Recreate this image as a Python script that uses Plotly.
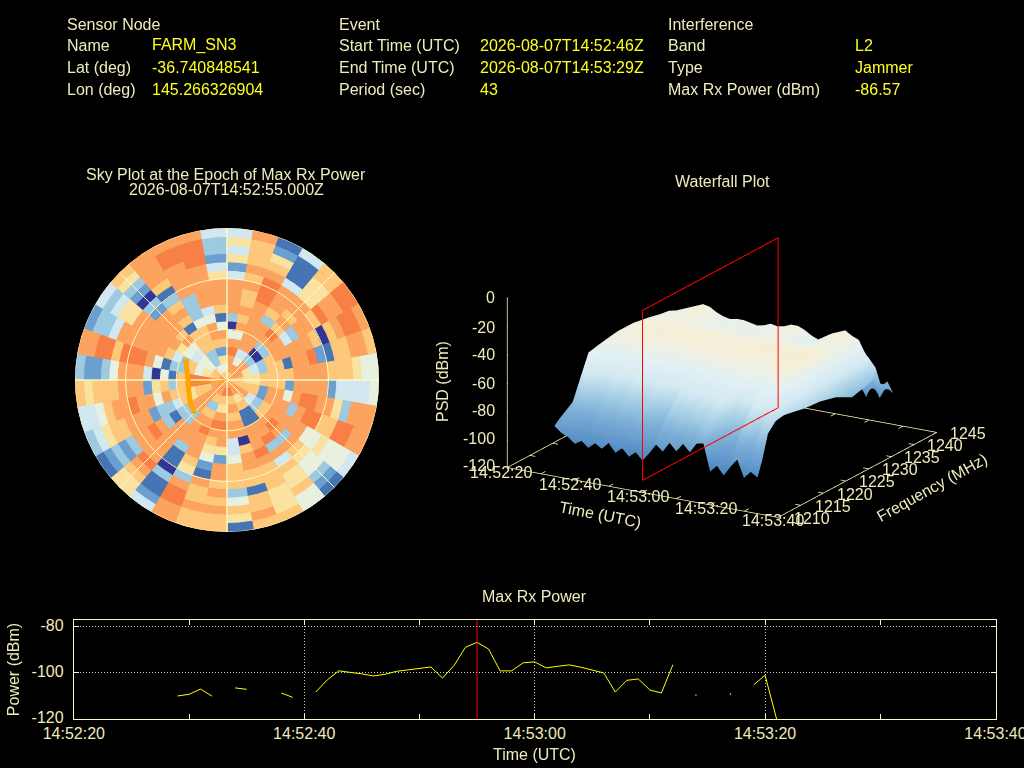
import numpy as np
import plotly.graph_objects as go

# header table
sensor_labels = ['Sensor Node', 'Name', 'Lat (deg)', 'Lon (deg)']
sensor_values = ['', 'FARM_SN3', '-36.740848541', '145.266326904']
event_labels = ['Event', 'Start Time (UTC)', 'End Time (UTC)', 'Period (sec)']
event_values = ['', '2026-08-07T14:52:46Z', '2026-08-07T14:53:29Z', '43']
interf_labels = ['Interference', 'Band', 'Type', 'Max Rx Power (dBm)']
interf_values = ['', 'L2', 'Jammer', '-86.57']

# sky plot: one string per azimuth sector (5, 15, ... 355 deg), elevation rings zenith -> horizon
sky_az = list(range(5, 360, 10))
sky_levels = [
    '788985038888426464', '887887878778787778', '875488888899987621', '873213883788841114',
    '888303897878866677', '874303884388798899', '876437888887078998', '776567718892177887',
    '776677778888777655', '777777728888244445', '887728858998863888', '888757883899779988',
    '888437888885565554', '878213898387655321', '886711889384766755', '887637888987776667',
    '897878807887717787', '787673844577735761', '727689886288787877', '878278876521877877',
    '887378988876389988', '888754888311031124', '888883388888898766', '888876313898832321',
    '887767433288877643', '899876785889887544', '899997376288877767', '899877150488853223',
    '876573315899979988', '543773478888884332', '535545688888866434', '384217878882302367',
    '753377717873178888', '873376753338888998', '866278854888889998', '876874517888642334',
]
level_colors = ['#313695', '#4575b4', '#6a9fcf', '#9ecae1', '#d1e8f0',
                '#e8f0e0', '#fae3a0', '#fdc87a', '#fca45f', '#f98045']

# satellite track on the sky plot
track_az = [297, 290, 280, 270, 264, 255, 245, 235, 224]
track_r = [27.7, 25.5, 24, 23, 22.9, 23.5, 24.4, 26, 27.4]
pointer_az = [263.5, 263.5]
pointer_r = [0, 21]

# max rx power, one value a second from 14:52:20
power_t = list(range(9, 62))
power_db = [-110, -109.3, -107, -110.1, None, -106.5, -107.1, None, None, -108.7, -110.6, None,
            -108.3, -103, -99.1, -99.6, -100.4, -101.3, -100.6, -99.3, -98.7, -98.1, -97.4, -102.2,
            -96.8, -88.8, -86.7, -89.6, -99.1, -99.1, -95.6, -95.2, -97.8, -97.1, -96.5, -97.5,
            -98.6, -100, -108.3, -103.2, -102.6, -107.4, -108.7, -96.4, None, -109.6, None, None,
            -109.1, None, -105.2, -101, -120]
dot_t = [54, 57]
dot_db = [-109.6, -109.1]
peak_t = 35

# waterfall: psd per frequency row (dBm) over time columns
wf_t = list(range(9, 70, 2))
wf_f = [1213.7, 1214.7, 1216, 1217.7, 1219.5, 1221.2, 1224, 1227.5, 1231, 1234.5, 1237, 1239,
        1239.7, 1241, 1242.3, 1243.6]
wf_psd = [
    [-93, -97, -99, -103, -100, -104, -100, -103, -98, -104, -100, -105, -101, -106, -100, -93, -97, -90, -95, -89, -94, -87, -86, -105, -100, -106, -99, -93, -105, -100, -103],
    [-90, -93, -94, -97, -98, -95, -97, -93, -96, -95, -97, -92, -96, -95, -97, -86, -90, -85, -88, -84, -86, -80, -78, -98, -97, -99, -92, -88, -95, -86, -93],
    [-87, -85, -86, -88, -90, -84, -85, -88, -82, -85, -86, -82, -85, -86, -88, -78, -80, -76, -80, -75, -77, -72, -72, -88, -90, -92, -78, -76, -85, -75, -76],
    [-83, -75, -76, -78, -80, -76, -77, -78, -74, -76, -78, -74, -76, -78, -80, -70, -72, -68, -72, -67, -70, -66, -66, -78, -80, -82, -68, -66, -72, -68, -70],
    [-68, -65, -66, -68, -70, -66, -68, -70, -66, -67, -70, -66, -68, -68, -70, -63, -65, -62, -65, -62, -63, -60, -60, -70, -66, -68, -60, -60, -62, -66, -69],
    [-54, -58, -58, -60, -62, -60, -60, -62, -59, -60, -62, -60, -60, -62, -62, -58, -60, -58, -60, -57, -58, -56, -55, -62, -58, -60, -55, -56, -56, -64, -70],
    [-52, -52, -52, -53, -54, -52, -53, -54, -52, -53, -54, -53, -53, -54, -54, -52, -53, -50, -52, -50, -51, -50, -50, -52, -50, -50, -47, -49, -50, -62, -72],
    [-50, -49, -48, -48, -47, -46, -46, -48, -46, -47, -48, -46, -47, -47, -48, -47, -48, -46, -47, -46, -47, -46, -46, -47, -46, -46, -45, -46, -48, -62, -73],
    [-50, -49, -48, -47, -47, -47, -46, -47, -46, -47, -47, -46, -47, -47, -48, -47, -48, -46, -47, -47, -47, -46, -46, -47, -46, -47, -45, -46, -48, -63, -76],
    [-52, -51, -51, -51, -50, -50, -50, -51, -51, -52, -52, -51, -52, -52, -53, -52, -52, -51, -51, -51, -51, -52, -53, -52, -51, -51, -50, -51, -52, -60, -82],
    [-54, -53, -52, -51, -50, -48, -49, -51, -52, -53, -53, -51, -53, -53, -53, -52, -52, -52, -51, -51, -52, -54, -55, -53, -51, -50, -48, -51, -52, -58, -80],
    [-55, -54, -52, -50, -48, -46, -47, -50, -52, -53, -52, -52, -53, -54, -53, -51, -52, -51, -49, -49, -51, -54, -56, -53, -50, -48, -46, -49, -51, -60, -78],
    [-70, -70, -72, -68, -66, -65, -66, -68, -70, -72, -71, -68, -70, -72, -70, -68, -70, -66, -66, -68, -70, -72, -74, -70, -66, -65, -64, -66, -62, -64, -70],
    [-90, -92, -90, -88, -91, -89, -90, -93, -90, -92, -91, -88, -92, -90, -93, -90, -92, -88, -90, -91, -90, -93, -92, -90, -92, -86, -88, -85, -84, -78, -86],
    [-92, -98, -89, -97, -90, -99, -91, -96, -89, -98, -91, -97, -88, -99, -90, -97, -89, -96, -88, -99, -90, -98, -88, -96, -86, -97, -85, -96, -84, -94, -84],
    [-95, -90, -101, -92, -102, -91, -100, -93, -101, -90, -102, -92, -100, -90, -103, -93, -100, -91, -102, -90, -101, -92, -103, -90, -100, -92, -101, -90, -100, -91, -95],
]
plane_f = [1213.7, 1243.6]
plane_z = [-120, 0]

# axis ticks and labels
time_ticks = list(range(0, 81, 10))
freq_ticks = list(range(1210, 1246, 5))
psd_ticks = list(range(-120, 1, 20))
time_labels = ['14:52:20', '14:52:40', '14:53:00', '14:53:20', '14:53:40']
time_label_pos = [(501, 472), (570, 484), (638, 496), (706, 508), (773, 520)]
freq_label_pos = [(812, 518), (833, 506), (855, 494), (877, 481), (900, 469), (922, 457), (945, 445), (968, 433)]
psd_label_y = [465, 438, 410, 383, 355, 327, 297]

CREAM = '#efebbc'
FRAME = '#fff8c0'
YELLOW = '#ffff20'
FONT = 'Liberation Sans'


def px(x):
    return x / 1024


def py(y):
    return 1 - y / 768


def label(x, y, text, color=CREAM, xanchor='left', angle=0, size=16):
    return dict(x=px(x), y=py(y), xref='paper', yref='paper', text=text, showarrow=False,
                xanchor=xanchor, yanchor='middle', textangle=angle, borderpad=0, borderwidth=0,
                font=dict(family=FONT, size=size, color=color))


def ring_step(k):
    # the inner rings have wider cells
    if k <= 1:
        return 4
    if k <= 5:
        return 2
    return 1


fig = go.Figure()

# 1. sky plot
thetas, bases, widths, colors = [], [], [], []
for i, (az, levels) in enumerate(zip(sky_az, sky_levels)):
    for k, ch in enumerate(levels):
        step = ring_step(k)
        if i % step:
            continue
        thetas.append(az + 5 * (step - 1))
        bases.append(5 * k)
        widths.append(10 * step)
        colors.append(level_colors[int(ch)])
fig.add_trace(go.Barpolar(theta=thetas, r=[5] * len(thetas), base=bases, width=widths,
                          marker=dict(color=colors, line=dict(color=colors, width=1))))
ring_theta = np.arange(0, 361, 2)
for ring in [30, 60, 90]:
    fig.add_trace(go.Scatterpolar(theta=ring_theta, r=[ring] * len(ring_theta), mode='lines',
                                  line=dict(color=FRAME, width=1)))
for spoke, w in [(0, 1.5), (45, 1), (90, 1.5), (135, 1)]:
    fig.add_trace(go.Scatterpolar(theta=[spoke, spoke + 180], r=[90, 90], mode='lines',
                                  line=dict(color=FRAME, width=w)))
fig.add_trace(go.Scatterpolar(theta=pointer_az, r=pointer_r, mode='lines', line=dict(color='#ffa500', width=1)))
fig.add_trace(go.Scatterpolar(theta=track_az, r=track_r, mode='lines', line=dict(color='#ffa500', width=5)))

# 2. waterfall
palette3d = [[0, '#313695'], [0.1, '#4a7ebb'], [0.167, '#5b92c7'], [0.29, '#7fb0d8'], [0.375, '#a7cfe6'],
             [0.458, '#d3e9f2'], [0.54, '#e4f1f3'], [0.6, '#f4efdc'], [0.65, '#f7eccb'], [0.75, '#fdc87a'],
             [1, '#f46d43']]
fig.add_trace(go.Surface(x=wf_t, y=wf_f, z=wf_psd, surfacecolor=wf_psd, cmin=-120, cmax=0,
                         colorscale=palette3d, showscale=False, hoverinfo='skip',
                         lighting=dict(ambient=1, diffuse=0, specular=0, fresnel=0), scene='scene'))

# base frame and ticks in data coords
bx, by, bz = [], [], []


def seg(x0, y0, z0, x1, y1, z1):
    bx.extend([x0, x1, None])
    by.extend([y0, y1, None])
    bz.extend([z0, z1, None])


seg(0, 1210, -120, 80, 1210, -120)
seg(80, 1210, -120, 80, 1245, -120)
seg(80, 1245, -120, 0, 1245, -120)
seg(0, 1245, -120, 0, 1210, -120)
seg(0, 1210, -120, 0, 1210, 0)
for t in time_ticks:
    seg(t, 1210, -120, t, 1211, -120)
    seg(t, 1245, -120, t, 1244, -120)
for f in freq_ticks:
    seg(0, f, -120, 1.6, f, -120)
    seg(80, f, -120, 78.4, f, -120)
for z in psd_ticks:
    seg(0, 1210, z, 1.4, 1209.2, z)
fig.add_trace(go.Scatter3d(x=bx, y=by, z=bz, mode='lines', line=dict(color=FRAME, width=1.5),
                           hoverinfo='skip', scene='scene'))

# red frame sits in its own scene so the surface does not hide it
fig.add_trace(go.Scatter3d(x=[peak_t] * 5, y=[plane_f[0], plane_f[1], plane_f[1], plane_f[0], plane_f[0]],
                           z=[plane_z[0], plane_z[0], plane_z[1], plane_z[1], plane_z[0]],
                           mode='lines', line=dict(color='#ff0000', width=2),
                           hoverinfo='skip', scene='scene2'))

# 3. power line
fig.add_trace(go.Scatter(x=power_t, y=power_db, mode='lines', connectgaps=False,
                         line=dict(color='#ffff00', width=1), xaxis='x', yaxis='y'))
fig.add_trace(go.Scatter(x=dot_t, y=dot_db, mode='markers', marker=dict(color='#ffff00', size=1.5),
                         xaxis='x', yaxis='y'))
fig.add_shape(type='line', x0=peak_t, x1=peak_t, y0=0, y1=1, xref='x', yref='y domain',
              line=dict(color='#ff0000', width=1))

annotations = []
for col_x, val_x, labels, values in [(67, 152, sensor_labels, sensor_values),
                                     (339, 480, event_labels, event_values),
                                     (668, 855, interf_labels, interf_values)]:
    for row_y, lab, val in zip([24, 45.5, 67, 89.5], labels, values):
        annotations.append(label(col_x, row_y, lab))
        if val:
            annotations.append(label(val_x, row_y, val, color=YELLOW))

annotations.append(label(226, 174, 'Sky Plot at the Epoch of Max Rx Power', xanchor='center'))
annotations.append(label(226, 189, '2026-08-07T14:52:55.000Z', xanchor='center'))
annotations.append(label(722, 181, 'Waterfall Plot', xanchor='center'))
annotations.append(label(534, 596, 'Max Rx Power', xanchor='center'))
annotations.append(label(443, 382, 'PSD (dBm)', xanchor='center', angle=-90))
annotations.append(label(534, 754, 'Time (UTC)', xanchor='center'))
annotations.append(label(600, 514, 'Time (UTC)', xanchor='center', angle=11))
annotations.append(label(932, 487, 'Frequency (MHz)', xanchor='center', angle=-29))
for (x, y), text in zip(time_label_pos, time_labels):
    annotations.append(label(x, y, text, xanchor='center'))
for (x, y), f in zip(freq_label_pos, freq_ticks):
    annotations.append(label(x, y, str(f), xanchor='center'))
for y, z in zip(psd_label_y, psd_ticks):
    annotations.append(label(495, y, str(z), xanchor='right'))

hidden = dict(visible=False, showgrid=False, zeroline=False, showspikes=False)
camera = dict(eye=dict(x=0.4804 * 2, y=-0.8189 * 2, z=0.314 * 2), center=dict(x=0, y=0, z=0),
              up=dict(x=0, y=0, z=1), projection=dict(type='orthographic'))
# ranges are padded by 1% so the frame on the box edge is not clipped
scene_style = dict(domain=dict(x=[px(462), px(982)], y=[py(555), py(175)]),
                   xaxis=dict(range=[-0.8, 80.8], **hidden), yaxis=dict(range=[1209.65, 1245.35], **hidden),
                   zaxis=dict(range=[-121.2, 1.2], **hidden),
                   aspectmode='manual', aspectratio=dict(x=1.685, y=1.685, z=0.961), camera=camera)

fig.update_layout(
    width=1024, height=768, margin=dict(l=0, r=0, t=0, b=0),
    paper_bgcolor='black', plot_bgcolor='black', showlegend=False, hovermode=False,
    font=dict(family=FONT, size=16, color=CREAM),
    annotations=annotations,
    polar=dict(domain=dict(x=[px(75), px(379)], y=[py(532), py(228)]), bgcolor='black', barmode='overlay',
               angularaxis=dict(rotation=90, direction='clockwise', visible=False),
               radialaxis=dict(range=[0, 90], visible=False)),
    scene=scene_style, scene2=scene_style,
    xaxis=dict(domain=[px(73.8), px(995.5)], range=[0, 80], tickmode='array', automargin=False,
               tickvals=[0, 20, 40, 60, 80], ticktext=time_labels, ticks='inside', ticklen=5,
               tickcolor=FRAME, showline=True, linecolor=FRAME, linewidth=1, mirror='ticks',
               ticklabeloverflow='allow',
               showgrid=True, gridcolor='#cccccc', griddash='1px,2px', gridwidth=1, zeroline=False,
               minor=dict(ticks='inside', ticklen=5, tickcolor=FRAME, dtick=10, tick0=0, showgrid=False)),
    yaxis=dict(domain=[py(719), py(620)], range=[-120, -77], tickmode='array', automargin=False,
               tickvals=[-120, -100, -80], ticktext=['-120', '-100', '-80'], ticks='inside', ticklen=5,
               tickcolor=FRAME, ticklabelstandoff=6, ticklabelshift=-2,
               title=dict(text='Power (dBm)', standoff=7, font=dict(size=16, color=CREAM)),
               showline=True, linecolor=FRAME, linewidth=1, mirror='ticks',
               showgrid=True, gridcolor='#cccccc', griddash='1px,2px', gridwidth=1, zeroline=False),
)

fig.write_html("out.html", config={'displayModeBar': False},
               post_script="document.body.style.margin='0';document.body.style.background='black';")
